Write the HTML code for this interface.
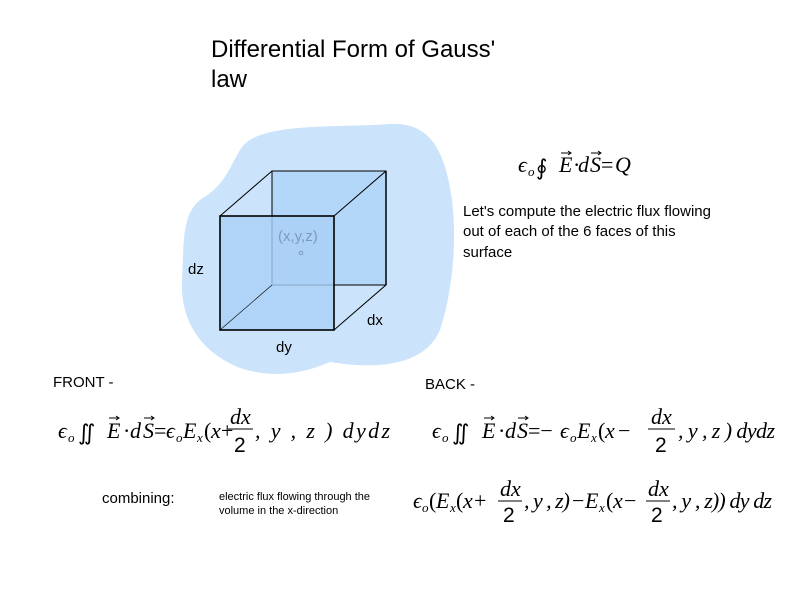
<!DOCTYPE html>
<html><head><meta charset="utf-8"><style>
body{margin:0;background:#fff;width:800px;height:600px;overflow:hidden}
svg{display:block}
.s{font-family:"Liberation Sans",sans-serif}
.m{font-family:"Liberation Serif",serif;font-style:italic;font-size:22px}
.n{font-family:"Liberation Serif",serif;font-size:22px}
.sub{font-family:"Liberation Serif",serif;font-style:italic;font-size:13px}
.ar{stroke:#000;stroke-width:1;fill:none}
</style></head><body>
<svg width="800" height="600" viewBox="0 0 800 600">
<defs><g id="a"><path class="ar" d="M0,0 H10 M7,-2 L10,0 L7,2"/></g></defs>
<text class="s" x="211" y="57" font-size="24">Differential Form of Gauss'</text>
<text class="s" x="211" y="87" font-size="24">law</text>
<path d="M240,150 C255,122 330,128 390,124 C430,122 445,150 452,200 C458,250 450,300 440,330 C425,365 380,370 330,362 C300,375 270,378 240,368 C200,352 180,320 182,280 C184,240 182,215 200,200 C225,185 228,170 240,150 Z" fill="#cce4fb"/>
<rect x="272" y="171" width="114" height="114" fill="#b3d7f9" stroke="#000" stroke-width="1"/>
<rect x="220" y="216" width="114" height="114" fill="#a9d0f6" fill-opacity="0.8" stroke="#000" stroke-width="1.6"/>
<line x1="220" y1="216" x2="272" y2="171" stroke="#000"/>
<line x1="334" y1="216" x2="386" y2="171" stroke="#000"/>
<line x1="334" y1="330" x2="386" y2="285" stroke="#000"/>
<line x1="220" y1="330" x2="272" y2="285" stroke="#000" stroke-width="0.6"/>
<line x1="386" y1="171" x2="386" y2="285" stroke="#000" stroke-width="1.5"/>
<text class="s" x="278" y="241" font-size="15" fill="#7a9cc0">(x,y,z)</text>
<circle cx="301" cy="253" r="1.8" fill="none" stroke="#7a9cc0"/>
<text class="s" x="188" y="274" font-size="15">dz</text>
<text class="s" x="367" y="325" font-size="15">dx</text>
<text class="s" x="276" y="352" font-size="15">dy</text>

<text class="m" x="518" y="172">ϵ</text><text class="sub" x="528" y="176">o</text>
<text class="n" x="536" y="175" font-size="26">∮</text>
<text class="m" x="559" y="172">E</text><use href="#a" x="561" y="153"/>
<text class="n" x="573" y="172">·</text><text class="m" x="578" y="172">d</text>
<text class="m" x="590" y="172">S</text><use href="#a" x="591" y="153"/>
<text class="n" x="601" y="172">=</text><text class="m" x="615" y="172">Q</text>

<text class="s" font-size="15" x="463" y="216">Let's compute the electric flux flowing</text>
<text class="s" font-size="15" x="463" y="236">out of each of the 6 faces of this</text>
<text class="s" font-size="15" x="463" y="257">surface</text>
<text class="s" font-size="15" x="53" y="387">FRONT -</text>
<text class="s" font-size="15" x="425" y="389">BACK -</text>

<text class="m" x="58" y="438">ϵ</text><text class="sub" x="68" y="442">o</text>
<text class="n" x="78" y="440" font-size="25">∬</text>
<text class="m" x="107" y="438">E</text><use href="#a" x="109" y="418"/>
<text class="n" x="123" y="438">·</text><text class="m" x="130" y="438">d</text>
<text class="m" x="143" y="438">S</text><use href="#a" x="144" y="418"/>
<text class="n" x="154" y="438">=</text>
<text class="m" x="166" y="438">ϵ</text><text class="sub" x="176" y="442">o</text>
<text class="m" x="183" y="438">E</text><text class="sub" x="197" y="442">x</text>
<text class="n" x="204" y="438">(</text><text class="m" x="211" y="438">x</text><text class="n" x="221" y="438">+</text>
<text class="m" x="230" y="424">dx</text><line x1="228" y1="429" x2="253" y2="429" stroke="#000"/><text class="s" font-size="21" x="234" y="452">2</text>
<text class="m" x="255" y="438" textLength="135">, y , z ) dydz</text>

<text class="m" x="432" y="438">ϵ</text><text class="sub" x="442" y="442">o</text>
<text class="n" x="452" y="440" font-size="25">∬</text>
<text class="m" x="482" y="438">E</text><use href="#a" x="484" y="418"/>
<text class="n" x="498" y="438">·</text><text class="m" x="505" y="438">d</text>
<text class="m" x="517" y="438">S</text><use href="#a" x="518" y="418"/>
<text class="n" x="528" y="438">=−</text>
<text class="m" x="560" y="438">ϵ</text><text class="sub" x="570" y="442">o</text>
<text class="m" x="577" y="438">E</text><text class="sub" x="591" y="442">x</text>
<text class="n" x="598" y="438">(</text><text class="m" x="605" y="438">x</text><text class="n" x="618" y="438">−</text>
<text class="m" x="651" y="424">dx</text><line x1="648" y1="429" x2="675" y2="429" stroke="#000"/><text class="s" font-size="21" x="655" y="452">2</text>
<text class="m" x="678" y="438" textLength="97">, y , z ) dydz</text>

<text class="s" font-size="15" x="102" y="503">combining:</text>
<text class="s" font-size="11" x="219" y="500">electric flux flowing through the</text>
<text class="s" font-size="11" x="219" y="514">volume in the x-direction</text>

<text class="m" x="413" y="508">ϵ</text><text class="sub" x="422" y="512">o</text>
<text class="n" x="429" y="508">(</text>
<text class="m" x="436" y="508">E</text><text class="sub" x="450" y="512">x</text>
<text class="n" x="456" y="508">(</text><text class="m" x="463" y="508">x</text><text class="n" x="474" y="508">+</text>
<text class="m" x="500" y="496">dx</text><line x1="498" y1="501" x2="522" y2="501" stroke="#000"/><text class="s" font-size="21" x="503" y="522">2</text>
<text class="m" x="524" y="508" textLength="46">, y , z)</text>
<text class="n" x="572" y="508">−</text>
<text class="m" x="585" y="508">E</text><text class="sub" x="599" y="512">x</text>
<text class="n" x="606" y="508">(</text><text class="m" x="613" y="508">x</text><text class="n" x="624" y="508">−</text>
<text class="m" x="648" y="496">dx</text><line x1="646" y1="501" x2="670" y2="501" stroke="#000"/><text class="s" font-size="21" x="651" y="522">2</text>
<text class="m" x="672" y="508" textLength="100">, y , z)) dy dz</text>
</svg>
</body></html>
